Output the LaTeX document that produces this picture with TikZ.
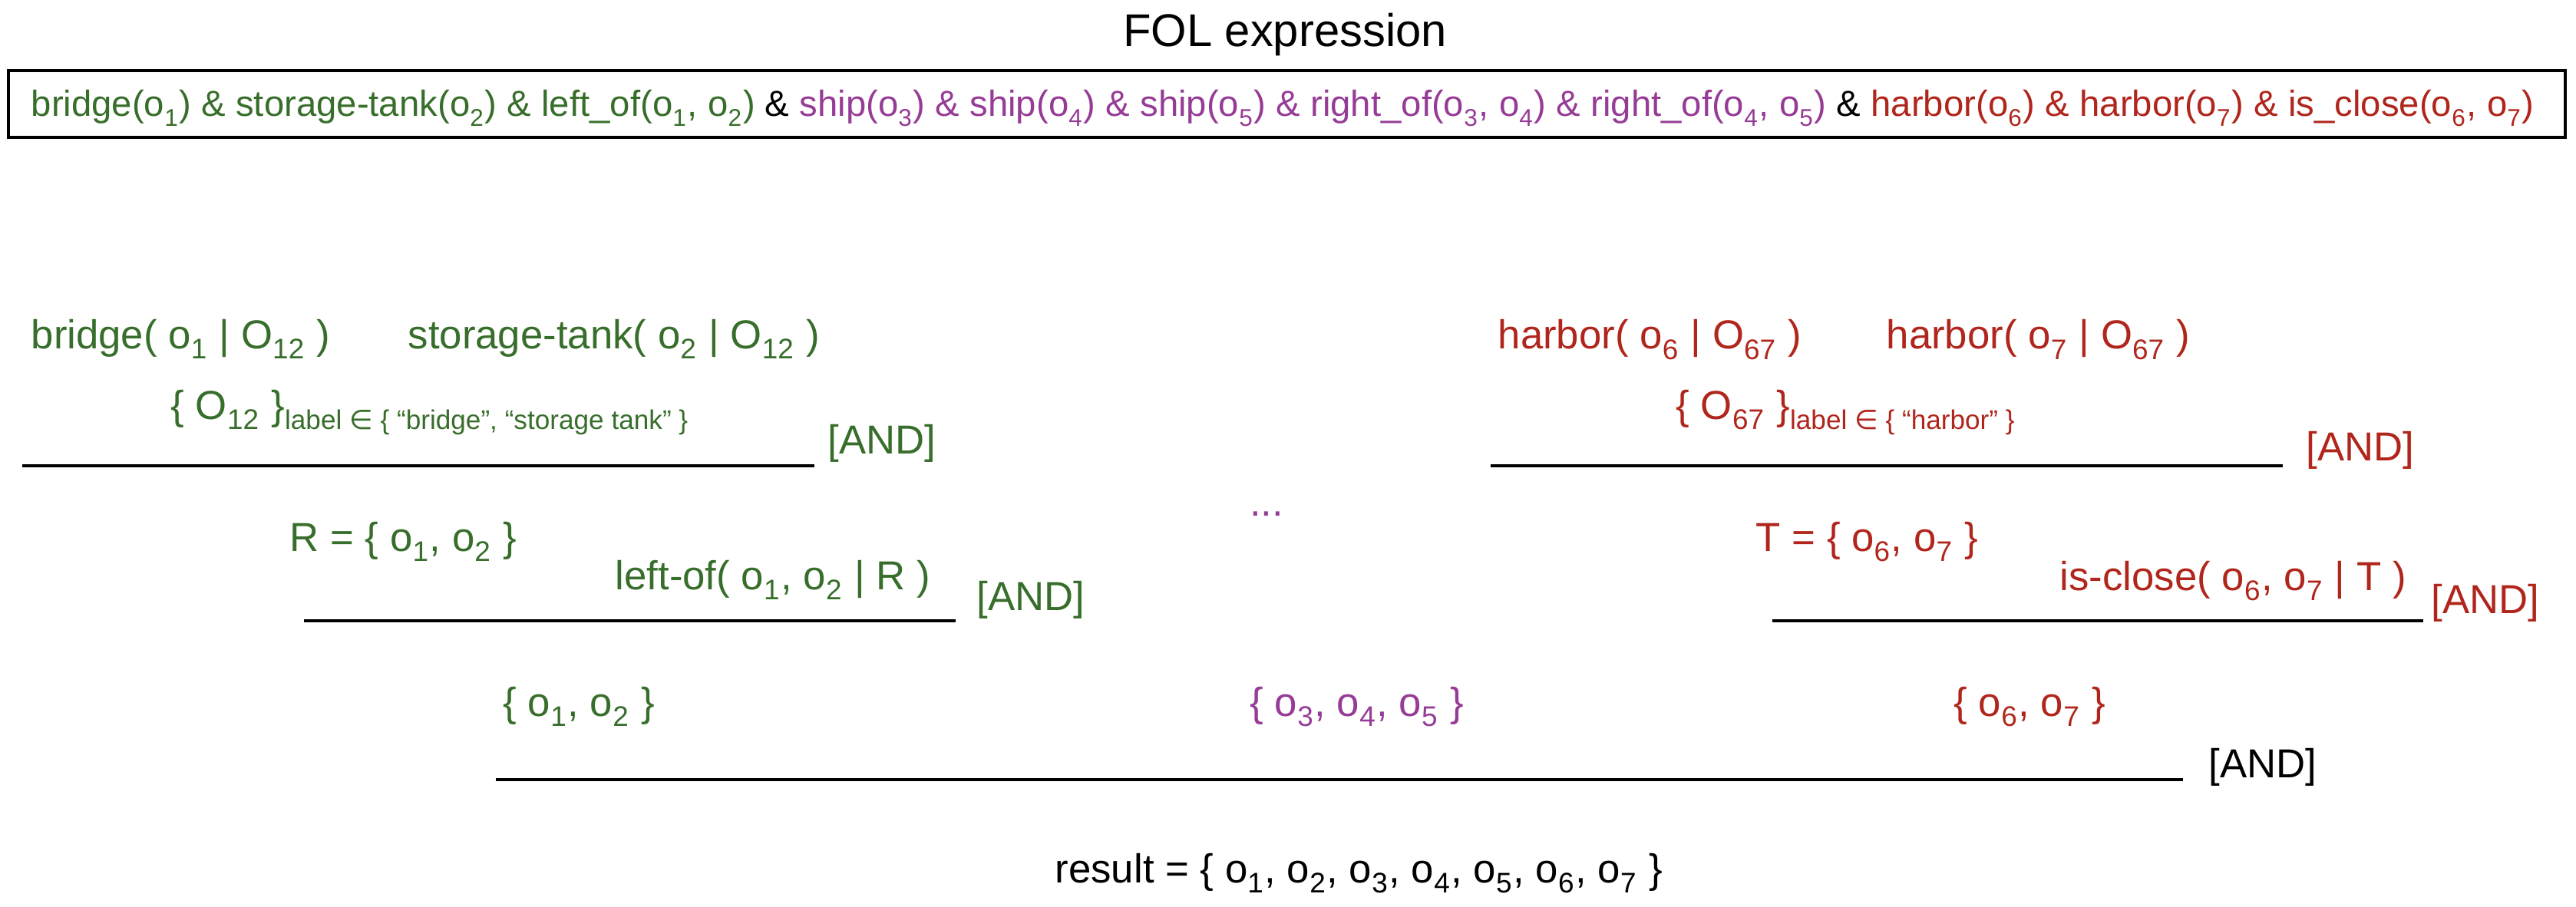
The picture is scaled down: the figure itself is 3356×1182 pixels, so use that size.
\documentclass[tikz,border=0pt]{standalone}
\usepackage{fontspec}
\setmainfont{Liberation Sans}
\newfontfamily\dvs{DejaVu Sans}
\definecolor{fgreen}{HTML}{386E2B}
\definecolor{fpurple}{HTML}{963C96}
\definecolor{fred}{HTML}{B0261C}
\newcommand{\sbs}[1]{\raisebox{-0.2ex}{\textsubscript{#1}}}
\newcommand{\elem}{{\dvs ∈}}
\tikzset{
  txt/.style={inner sep=0pt, anchor=base west, font=\fontsize{15}{18}\selectfont},
  gtxt/.style={txt, text=fgreen},
  ptxt/.style={txt, text=fpurple},
  rtxt/.style={txt, text=fred},
  btxt/.style={txt, text=black},
  bar/.style={line width=1.4pt, black},
}
\newcommand{\lbl}[1]{\raisebox{-0.5ex}{\fontsize{10}{12}\selectfont #1}}
\begin{document}
\begin{tikzpicture}[x=0.01cm,y=-0.01cm]
\useasboundingbox (0,0) rectangle (3356,1182);
% title
\node[inner sep=0pt, anchor=base, font=\fontsize{17}{20}\selectfont] (title) at (1674,61) {FOL expression};
% FOL box
\node[draw, line width=0.9pt, inner sep=0pt, minimum width=33.29cm, minimum height=0.87cm] (folbox) at (1676.5,135.5) {};
\node[inner sep=0pt, anchor=base west, font=\fontsize{12}{14}\selectfont] (foltext) at (40,152) {\resizebox{32.59cm}{!}{%
\textcolor{fgreen}{bridge(o\sbs{1}) \& storage-tank(o\sbs{2}) \& left\_of(o\sbs{1}, o\sbs{2})} \&
\textcolor{fpurple}{ship(o\sbs{3}) \& ship(o\sbs{4}) \& ship(o\sbs{5}) \& right\_of(o\sbs{3}, o\sbs{4}) \& right\_of(o\sbs{4}, o\sbs{5})} \&
\textcolor{fred}{harbor(o\sbs{6}) \& harbor(o\sbs{7}) \& is\_close(o\sbs{6}, o\sbs{7})}}};
% left branch
\node[gtxt] (b1) at (40,454) {bridge( o\sbs{1} | O\sbs{12} )};
\node[gtxt] (b2) at (531,454) {storage-tank( o\sbs{2} | O\sbs{12} )};
\node[gtxt] (o12) at (222,546) {\{ O\sbs{12} \}\lbl{label \elem\ \{ “bridge”, “storage tank” \}}};
\node[gtxt] (and1) at (1078,591) {[AND]};
\draw[bar] (29,607) coordinate (l1a) -- (1061,607) coordinate (l1b);
\node[gtxt] (rset) at (377,718) {R = \{ o\sbs{1}, o\sbs{2} \}};
\node[gtxt] (leftof) at (801,768) {left-of( o\sbs{1}, o\sbs{2} | R )};
\node[gtxt] (and2) at (1272,795) {[AND]};
\draw[bar] (396,809) coordinate (l2a) -- (1245,809) coordinate (l2b);
\node[gtxt] (s12) at (655,933) {\{ o\sbs{1}, o\sbs{2} \}};
% middle branch
\node[ptxt, anchor=base] (dots) at (1650,672) {...};
\node[ptxt] (s345) at (1628,933) {\{ o\sbs{3}, o\sbs{4}, o\sbs{5} \}};
% right branch
\node[rtxt] (h6) at (1951,455) {harbor( o\sbs{6} | O\sbs{67} )};
\node[rtxt] (h7) at (2457,455) {harbor( o\sbs{7} | O\sbs{67} )};
\node[rtxt] (o67) at (2183,546) {\{ O\sbs{67} \}\lbl{label \elem\ \{ “harbor” \}}};
\node[rtxt] (and4) at (3004,600) {[AND]};
\draw[bar] (1942,607) coordinate (l4a) -- (2974,607) coordinate (l4b);
\node[rtxt] (tset) at (2287,718) {T = \{ o\sbs{6}, o\sbs{7} \}};
\node[rtxt] (isclose) at (2683,769) {is-close( o\sbs{6}, o\sbs{7} | T )};
\node[rtxt] (and5) at (3167,799) {[AND]};
\draw[bar] (2309,809) coordinate (l5a) -- (3157,809) coordinate (l5b);
\node[rtxt] (s67) at (2545,933) {\{ o\sbs{6}, o\sbs{7} \}};
% final
\draw[bar] (646,1016) coordinate (l3a) -- (2844,1016) coordinate (l3b);
\node[btxt] (and3) at (2877,1013) {[AND]};
\node[btxt] (result) at (1374,1150) {result = \{ o\sbs{1}, o\sbs{2}, o\sbs{3}, o\sbs{4}, o\sbs{5}, o\sbs{6}, o\sbs{7} \}};
\end{tikzpicture}
\end{document}
